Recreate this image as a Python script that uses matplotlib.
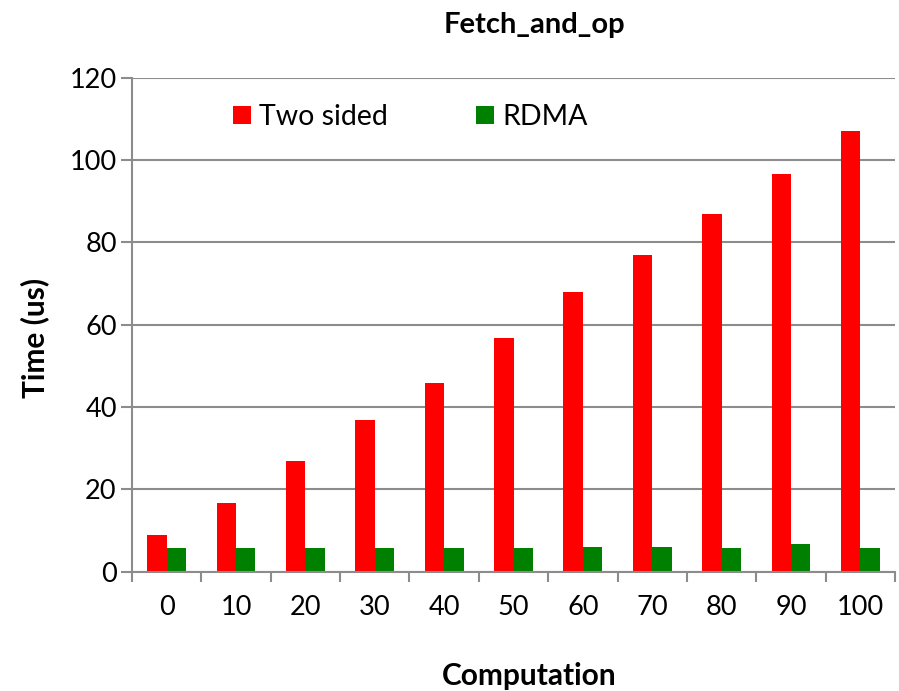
import matplotlib
matplotlib.use("Agg")
import matplotlib.pyplot as plt
import numpy as np

categories = ["0", "10", "20", "30", "40", "50", "60", "70", "80", "90", "100"]
two_sided = [8.9, 16.8, 27.0, 36.9, 45.9, 56.8, 68.0, 77.0, 87.0, 96.7, 107.1]
rdma = [5.7, 5.7, 5.7, 5.7, 5.7, 5.7, 6.0, 6.0, 5.7, 6.7, 5.7]
yticks = [0, 20, 40, 60, 80, 100, 120]

plt.rcParams['font.family'] = ['Lato', 'DejaVu Sans']

fig = plt.figure(figsize=(8.99, 6.91), dpi=100)
ax = fig.add_axes([132/899, 1-571.7/691, (895-132)/899, (571.7-77.7)/691])

x = np.arange(len(categories))
w = 0.28
ax.bar(x - w/2, two_sided, w, color="#ff0000", label="Two sided", zorder=3)
ax.bar(x + w/2, rdma, w, color="#008000", label="RDMA", zorder=3)

ax.set_xlim(-0.5, len(categories) - 0.5)
ax.set_ylim(0, 120)
ax.set_yticks(yticks)
ax.set_yticklabels([str(v) for v in yticks], fontsize=19.5)
ax.set_xticks(x)
ax.set_xticklabels(categories, fontsize=19.5)
ax.set_xticks(np.arange(len(categories) + 1) - 0.5, minor=True)
ax.tick_params(axis='x', which='major', length=0, pad=17)
ax.tick_params(axis='x', which='minor', length=7, width=1.5, color="#8c8c8c")
ax.tick_params(axis='y', length=8, width=1.5, color="#8c8c8c", pad=3)

ax.grid(axis='y', color="#8c8c8c", linewidth=1.5, zorder=0)
for s in ['top', 'right']:
    ax.spines[s].set_visible(False)
for s in ['left', 'bottom']:
    ax.spines[s].set_color("#8c8c8c")
    ax.spines[s].set_linewidth(1.5)
ax.spines['bottom'].set_zorder(4)

fig.text(534/899, 1-25/691, "Fetch_and_op", ha='center', va='center', fontsize=21, fontweight='bold')
fig.text(529/899, 1-676/691, "Computation", ha='center', va='center', fontsize=21.5, fontweight='bold')
fig.text(35/899, 1-338/691, "Time (us)", ha='center', va='center', fontsize=21.5, fontweight='bold', rotation=90)

leg = ax.legend(loc='center left', bbox_to_anchor=((233-132)/763, (571.7-117)/494), ncol=2, frameon=False,
                fontsize=20.5, handlelength=0.63, handleheight=0.63, columnspacing=3.1, handletextpad=0.28,
                borderaxespad=0, borderpad=0)

fig.savefig("out.png", dpi=100)
